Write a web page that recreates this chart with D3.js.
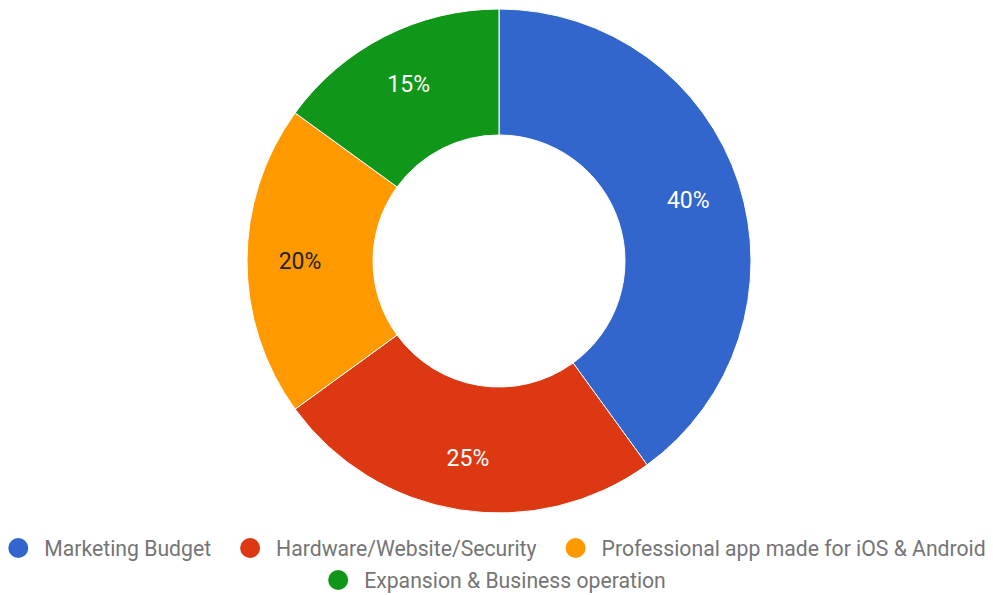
<!DOCTYPE html>
<html>
<head>
<meta charset="utf-8">
<script src="https://cdn.jsdelivr.net/npm/d3@7"></script>
<style>
  html, body { margin: 0; padding: 0; background: #fff; }
  svg { display: block; }
</style>
</head>
<body>
<svg id="chart" width="993" height="595"></svg>
<script>
const categories = ["Marketing Budget", "Hardware/Website/Security", "Professional app made for iOS & Android", "Expansion & Business operation"];
const values = [40, 25, 20, 15];
const colors = ["#3366cc", "#dc3912", "#ff9900", "#109618"];
const labelColors = ["#ffffff", "#ffffff", "#222222", "#ffffff"];
const legendRows = [[0, 1, 2], [3]];

const svg = d3.select("#chart");
const W = 993;
const cx = 499, cy = 261, outerR = 252, innerR = 126, labelR = 199;

const pie = d3.pie().sort(null).value(d => d.value);
const data = pie(categories.map((c, i) => ({ name: c, value: values[i], i })));
const arc = d3.arc().innerRadius(innerR).outerRadius(outerR);
const labelArc = d3.arc().innerRadius(labelR).outerRadius(labelR);

const g = svg.append("g").attr("transform", `translate(${cx},${cy})`);
g.selectAll("path").data(data).enter().append("path")
  .attr("d", arc)
  .attr("fill", d => colors[d.data.i])
  .attr("stroke", "#fff")
  .attr("stroke-width", 1);

const total = d3.sum(values);
g.selectAll("text").data(data).enter().append("text")
  .attr("transform", d => `translate(${labelArc.centroid(d)})`)
  .attr("text-anchor", "middle")
  .attr("dy", "0.36em")
  .attr("font-family", "Roboto, Arial, sans-serif")
  .attr("font-size", 23)
  .attr("fill", d => labelColors[d.data.i])
  .text(d => Math.round(d.data.value / total * 100) + "%");

// Legend
const rowY = [548, 580];
const r = 10, gapText = 16, gapItem = 29;
legendRows.forEach((row, ri) => {
  const lg = svg.append("g");
  let x = 0;
  row.forEach((idx, k) => {
    const item = lg.append("g").attr("transform", `translate(${x},0)`);
    item.append("circle").attr("cx", r).attr("cy", 0).attr("r", r).attr("fill", colors[idx]);
    const t = item.append("text")
      .attr("x", 2 * r + gapText)
      .attr("y", 0)
      .attr("dy", "0.36em")
      .attr("font-family", "Roboto, Arial, sans-serif")
      .attr("font-size", 21.2)
      .attr("fill", "#757575")
      .text(categories[idx]);
    const w = t.node().getComputedTextLength();
    x += 2 * r + gapText + w + (k < row.length - 1 ? gapItem : 0);
  });
  lg.attr("transform", `translate(${(W - x) / 2 + 0.5},${rowY[ri]})`);
});
</script>
</body>
</html>
